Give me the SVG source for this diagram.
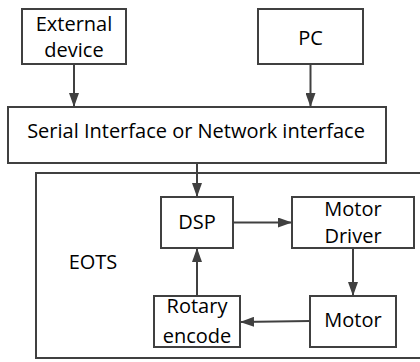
<svg xmlns="http://www.w3.org/2000/svg" width="420" height="362" viewBox="0 0 420 362">
<defs>
<marker id="ah" viewBox="0 0 14 10" refX="14" refY="5" markerWidth="14" markerHeight="10" markerUnits="userSpaceOnUse" orient="auto">
<path d="M0,0 L14,5 L0,10 Z" fill="#404040"/>
</marker>
<style>
.box{fill:#fff;stroke:#404040;stroke-width:2}
.t{font-family:"Open Sans","Lato",sans-serif;font-size:20px;fill:#000;text-anchor:middle}
.c{stroke:#404040;stroke-width:2;fill:none;marker-end:url(#ah)}
</style>
</defs>
<rect width="420" height="362" fill="#fff"/>
<g id="eots">
<rect class="box" x="36" y="173" width="390" height="185"/>
<text class="t" x="93" y="269">EOTS</text>
</g>
<g id="external">
<rect class="box" x="22" y="9" width="104" height="55"/>
<text class="t" x="74" y="31">External</text>
<text class="t" x="74" y="57">device</text>
</g>
<g id="pc">
<rect class="box" x="258" y="9" width="105" height="55"/>
<text class="t" x="310.5" y="45">PC</text>
</g>
<g id="serial">
<rect class="box" x="8" y="107" width="378" height="56"/>
<text class="t" x="196" y="138">Serial Interface or Network interface</text>
</g>
<g id="dsp">
<rect class="box" x="161" y="197" width="72" height="51"/>
<text class="t" x="197" y="229">DSP</text>
</g>
<g id="driver">
<rect class="box" x="292" y="197" width="122" height="51"/>
<text class="t" x="353" y="216">Motor</text>
<text class="t" x="353" y="243">Driver</text>
</g>
<g id="motor">
<rect class="box" x="310" y="296" width="86" height="51"/>
<text class="t" x="353" y="327">Motor</text>
</g>
<g id="rotary">
<rect class="box" x="154" y="296" width="86" height="51"/>
<text class="t" x="197" y="313">Rotary</text>
<text class="t" x="197" y="343">encode</text>
</g>
<g id="connectors">
<line class="c" x1="74" y1="64" x2="74" y2="107"/>
<line class="c" x1="310.5" y1="64" x2="310.5" y2="107"/>
<line class="c" x1="197" y1="163" x2="197" y2="197"/>
<line class="c" x1="233" y1="222.5" x2="292" y2="222.5"/>
<line class="c" x1="353" y1="248" x2="353" y2="296"/>
<line class="c" x1="310" y1="321" x2="240" y2="322"/>
<line class="c" x1="197" y1="296" x2="197" y2="248"/>
</g>
</svg>
